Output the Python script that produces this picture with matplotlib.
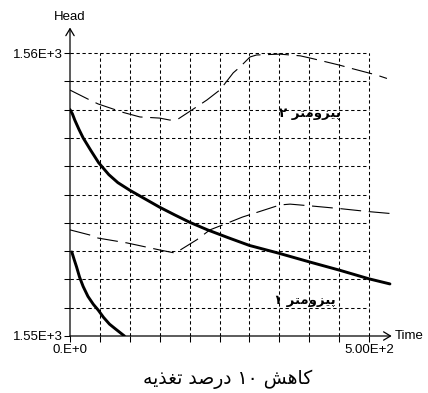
import matplotlib
matplotlib.use("Agg")
import matplotlib.pyplot as plt
import numpy as np

plt.rcParams['lines.scale_dashes'] = False

# ---------------- data ----------------
# thin dashed curve (upper)
t_thin_upper = [0, 33, 47, 89, 117, 150, 167, 181, 212, 229, 251, 273, 284, 301, 312,
                351, 385, 406, 451, 468, 513, 530]
h_thin_upper = [1558.69, 1558.34, 1558.2, 1557.9, 1557.74, 1557.7, 1557.63, 1557.67,
                1558.1, 1558.34, 1558.7, 1559.3, 1559.5, 1559.86, 1559.93, 1559.96,
                1559.9, 1559.8, 1559.57, 1559.47, 1559.22, 1559.1]
# thin dashed curve (lower)
t_thin_lower = [0, 33, 47, 95, 150, 176, 212, 234, 268, 288, 351, 368, 401, 452, 497, 535]
h_thin_lower = [1553.75, 1553.57, 1553.46, 1553.29, 1553.04, 1552.93, 1553.4, 1553.75,
                1554.03, 1554.2, 1554.63, 1554.66, 1554.6, 1554.5, 1554.4, 1554.33]
# thick curve
t_thick = [0, 4, 8, 15, 22, 35, 48, 65, 80, 100, 125, 150, 175, 200, 230, 265, 300,
           350, 400, 450, 500, 535]
h_thick = [1558.0, 1557.85, 1557.63, 1557.3, 1557.0, 1556.55, 1556.12, 1555.7, 1555.42,
           1555.15, 1554.85, 1554.55, 1554.28, 1554.02, 1553.75, 1553.47, 1553.2,
           1552.92, 1552.62, 1552.33, 1552.02, 1551.84]
# thick curve, second (low) segment
t_thick_low = [3, 7, 11, 16, 22, 30, 39, 47, 56, 66, 76, 91]
h_thick_low = [1552.97, 1552.7, 1552.44, 1552.08, 1551.75, 1551.4, 1551.12, 1550.92,
               1550.66, 1550.42, 1550.25, 1550.0]

x_grid = [0, 50, 100, 150, 200, 250, 300, 350, 400, 450, 500]
x_ticklabels = ['0.E+0', '', '', '', '', '', '', '', '', '', '5.00E+2']
y_grid = [1550, 1551, 1552, 1553, 1554, 1555, 1556, 1557, 1558, 1559, 1560]
y_ticklabels = ['1.55E+3', '', '', '', '', '', '', '', '', '', '1.56E+3']

x_label = 'Time'
y_label = 'Head'
label_p2 = 'پیزومتر ۲'
label_p1 = 'پیزومتر ۱'
caption = 'کاهش ۱۰ درصد تغذیه'

# ---------------- minimal Persian shaping ----------------
DUAL = {
    'پ': ('\uFB56', '\uFB57', '\uFB58', '\uFB59'),
    'ت': ('\uFE95', '\uFE96', '\uFE97', '\uFE98'),
    'ش': ('\uFEB5', '\uFEB6', '\uFEB7', '\uFEB8'),
    'ص': ('\uFEB9', '\uFEBA', '\uFEBB', '\uFEBC'),
    'غ': ('\uFECD', '\uFECE', '\uFECF', '\uFED0'),
    'م': ('\uFEE1', '\uFEE2', '\uFEE3', '\uFEE4'),
    'ه': ('\uFEE9', '\uFEEA', '\uFEEB', '\uFEEC'),
    'ک': ('\uFB8E', '\uFB8F', '\uFB90', '\uFB91'),
    'ی': ('\uFBFC', '\uFBFD', '\uFBFE', '\uFBFF'),
}
RIGHT = {
    'ا': ('\uFE8D', '\uFE8E'),
    'د': ('\uFEA9', '\uFEAA'),
    'ذ': ('\uFEAB', '\uFEAC'),
    'ر': ('\uFEAD', '\uFEAE'),
    'ز': ('\uFEAF', '\uFEB0'),
    'و': ('\uFEED', '\uFEEE'),
}
DIGITS = set('۰۱۲۳۴۵۶۷۸۹0123456789')


def shape(s):
    chars = list(s)
    isl = lambda c: c in DUAL or c in RIGHT
    out = []
    for i, c in enumerate(chars):
        if not isl(c):
            out.append(c)
            continue
        prev = chars[i - 1] if i > 0 else None
        nxt = chars[i + 1] if i + 1 < len(chars) else None
        jp = prev in DUAL
        jn = c in DUAL and nxt is not None and isl(nxt)
        if c in RIGHT:
            out.append(RIGHT[c][1] if jp else RIGHT[c][0])
        else:
            f = DUAL[c]
            out.append(f[3] if (jp and jn) else f[1] if jp else f[2] if jn else f[0])
    vis = out[::-1]
    res, run = [], []
    for c in vis:
        if c in DIGITS:
            run.append(c)
        else:
            if run:
                res.extend(run[::-1])
                run = []
            res.append(c)
    if run:
        res.extend(run[::-1])
    return ''.join(res)


# ---------------- figure ----------------
W, H = 428, 393
fig = plt.figure(figsize=(W / 100, H / 100), dpi=100)
x0px, y0px = 70, 336
px_per_t = 299 / 500
px_per_h = 283 / 10
xmax, ymax = 538, 1560.9
ax_w = xmax * px_per_t
ax_h = (ymax - 1550) * px_per_h
ax = fig.add_axes([x0px / W, (H - y0px) / H, ax_w / W, ax_h / H])
ax.set_xlim(0, xmax)
ax.set_ylim(1550, ymax)
for sp in ax.spines.values():
    sp.set_visible(False)

tick_font = ['Liberation Sans', 'DejaVu Sans']
tfs = 9.5

# grid (dashed), confined to the labelled range
gdash = (2.4, 1.9)
for xv in x_grid[1:]:
    ax.plot([xv, xv], [y_grid[0], y_grid[-1]], color='black', lw=0.75,
            dashes=gdash, zorder=1)
for yv in y_grid[1:]:
    ax.plot([x_grid[0], x_grid[-1]], [yv, yv], color='black', lw=0.75,
            dashes=gdash, zorder=1)

# axes with arrows
ax.annotate('', xy=(1, 0), xytext=(0, 0), xycoords='axes fraction',
            arrowprops=dict(arrowstyle='->,head_length=0.5,head_width=0.3',
                            lw=0.9, color='black', shrinkA=0, shrinkB=0))
ax.annotate('', xy=(0, 1), xytext=(0, 0), xycoords='axes fraction',
            arrowprops=dict(arrowstyle='->,head_length=0.5,head_width=0.3',
                            lw=0.9, color='black', shrinkA=0, shrinkB=0))

ax.set_xticks(x_grid)
ax.set_xticklabels(x_ticklabels, family=tick_font, fontsize=tfs)
ax.set_yticks(y_grid)
ax.set_yticklabels(y_ticklabels, family=tick_font, fontsize=tfs)
ax.tick_params(axis='both', direction='out', length=4, width=0.75, pad=1.5)

# curves
thin_dash = (15, 5.5)
ax.plot(t_thin_upper, h_thin_upper, color='black', lw=0.8, dashes=thin_dash, zorder=3)
ax.plot(t_thin_lower, h_thin_lower, color='black', lw=0.8, dashes=thin_dash, zorder=3)
ax.plot(t_thick, h_thick, color='black', lw=2.1, zorder=4, solid_capstyle='round')
ax.plot(t_thick_low, h_thick_low, color='black', lw=2.1, zorder=4, solid_capstyle='round')

# axis names
ax.annotate(y_label, xy=(0, 1), xycoords='axes fraction', xytext=(0, 3),
            textcoords='offset points', ha='center', va='bottom',
            family=tick_font, fontsize=tfs)
ax.annotate(x_label, xy=(1, 0), xycoords='axes fraction', xytext=(2.5, 0),
            textcoords='offset points', ha='left', va='center',
            family=tick_font, fontsize=tfs)

# Persian labels
ax.text(401, 1557.85, shape(label_p2), ha='center', va='center',
        family=['DejaVu Sans'], fontweight='bold', fontsize=9.5, zorder=5)
ax.text(393, 1551.27, shape(label_p1), ha='center', va='center',
        family=['DejaVu Sans'], fontweight='bold', fontsize=9.5, zorder=5)
fig.text(228 / W, 1 - 379 / H, shape(caption), ha='center', va='center',
         family=['DejaVu Sans'], fontsize=13.5)

fig.savefig('out.png', dpi=100)
